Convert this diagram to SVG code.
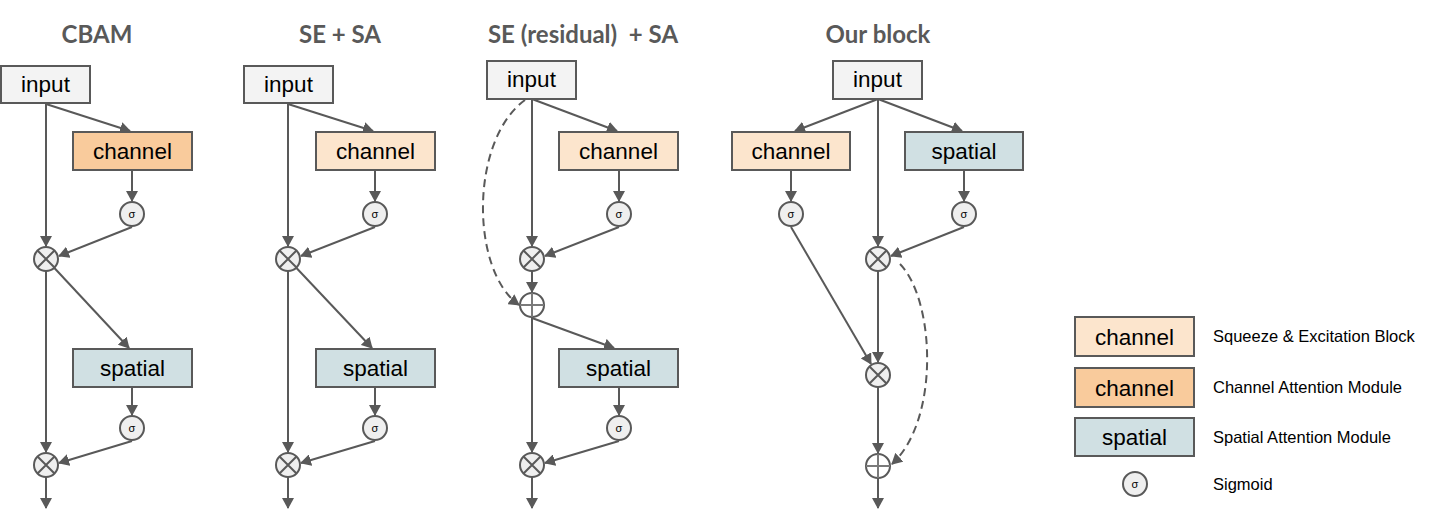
<svg xmlns="http://www.w3.org/2000/svg" width="1454" height="522" viewBox="0 0 1454 522">
<style>
.title{font-family:Lato,"Liberation Sans",sans-serif;font-weight:bold;font-size:24px;fill:#595959;text-anchor:middle;white-space:pre}
.box{stroke:#595959;stroke-width:2}
.inp{fill:#f3f3f3}
.cam{fill:#f9cb9c}
.se{fill:#fce5cd}
.sp{fill:#d0e0e3}
.lbl{font-family:"Liberation Sans",Arial,sans-serif;font-size:22.5px;fill:#000;text-anchor:middle}
.sig{fill:#efefef;stroke:#595959;stroke-width:2}
.sigt{font-family:"Liberation Sans",Arial,sans-serif;font-size:11px;fill:#000;text-anchor:middle}
.op{fill:#efefef;stroke:#595959;stroke-width:2}
.opl{stroke:#595959;stroke-width:2}
.add{fill:#ffffff;stroke:#595959;stroke-width:2}
.addl{stroke:#7a7a7a;stroke-width:2}
.con{fill:none;stroke:#595959;stroke-width:2;marker-end:url(#arr)}
.dash{stroke-dasharray:8,5}
.leg{font-family:"Liberation Sans",Arial,sans-serif;font-size:16.5px;fill:#000}
</style>
<defs>
<marker id="arr" viewBox="0 0 11 12" refX="10" refY="6" markerWidth="11" markerHeight="12" markerUnits="userSpaceOnUse" orient="auto">
<path d="M0,0 L11,6 L0,12 z" fill="#595959"/>
</marker>
</defs>
<rect width="1454" height="522" fill="#ffffff"/>

<g id="titles">
<text class="title" x="97" y="43">CBAM</text>
<text class="title" x="340" y="43">SE + SA</text>
<text class="title" x="583" y="43">SE (residual)  + SA</text>
<text class="title" x="878" y="43">Our block</text>
</g>

<g id="connectors">
<!-- CBAM -->
<path class="con" d="M46,104 L130,131"/>
<path class="con" d="M46,104 L46,246"/>
<path class="con" d="M132,170 L132,201"/>
<path class="con" d="M132,227 L59,256"/>
<path class="con" d="M46,259 L129,348"/>
<path class="con" d="M46,259 L46,452"/>
<path class="con" d="M132,387 L132,415"/>
<path class="con" d="M132,441 L59,463"/>
<path class="con" d="M46,465 L46,508"/>
<!-- SE + SA -->
<path class="con" d="M288,104 L373,131"/>
<path class="con" d="M288,104 L288,246"/>
<path class="con" d="M375,170 L375,201"/>
<path class="con" d="M375,227 L301,256"/>
<path class="con" d="M288,259 L372,348"/>
<path class="con" d="M288,259 L288,452"/>
<path class="con" d="M375,387 L375,415"/>
<path class="con" d="M375,441 L301,463"/>
<path class="con" d="M288,465 L288,508"/>
<!-- SE residual + SA -->
<path class="con" d="M532,99 L617,131"/>
<path class="con" d="M532,99 L532,246"/>
<path class="con" d="M619,170 L619,201"/>
<path class="con" d="M619,227 L545,256"/>
<path class="con" d="M532,259 L532,292"/>
<path class="con" d="M532,318 L614,348"/>
<path class="con" d="M532,305 L532,452"/>
<path class="con" d="M619,387 L619,415"/>
<path class="con" d="M619,441 L545,463"/>
<path class="con" d="M532,465 L532,508"/>
<path class="con dash" d="M525,100 C470,140 470,270 519,305"/>
<!-- Our block -->
<path class="con" d="M878,99 L795,131"/>
<path class="con" d="M878,99 L962,131"/>
<path class="con" d="M878,99 L878,246"/>
<path class="con" d="M791,170 L791,201"/>
<path class="con" d="M964,170 L964,201"/>
<path class="con" d="M964,227 L891,256"/>
<path class="con" d="M791,227 L871,364"/>
<path class="con" d="M878,259 L878,362"/>
<path class="con" d="M878,375 L878,453"/>
<path class="con" d="M878,466 L878,508"/>
<path class="con dash" d="M900,264 C935,300 940,420 892,464"/>
</g>

<!-- CBAM nodes -->
<g id="cbam-input"><rect class="box inp" x="1" y="66" width="89" height="37"/><text class="lbl" x="45.5" y="92">input</text></g>
<g id="cbam-channel"><rect class="box cam" x="73" y="132" width="119" height="38"/><text class="lbl" x="132.5" y="159">channel</text></g>
<g id="cbam-sigma1"><circle class="sig" cx="132" cy="214" r="12"/><text class="sigt" x="132" y="218">σ</text></g>
<g id="cbam-mul1"><circle class="op" cx="46" cy="259" r="12"/><path class="opl" d="M37.5,250.5 L54.5,267.5 M54.5,250.5 L37.5,267.5"/></g>
<g id="cbam-spatial"><rect class="box sp" x="73" y="349" width="119" height="38"/><text class="lbl" x="132.5" y="376">spatial</text></g>
<g id="cbam-sigma2"><circle class="sig" cx="132" cy="428" r="12"/><text class="sigt" x="132" y="432">σ</text></g>
<g id="cbam-mul2"><circle class="op" cx="46" cy="465" r="12"/><path class="opl" d="M37.5,456.5 L54.5,473.5 M54.5,456.5 L37.5,473.5"/></g>

<!-- SE + SA nodes -->
<g id="sesa-input"><rect class="box inp" x="244" y="66" width="89" height="37"/><text class="lbl" x="288.5" y="92">input</text></g>
<g id="sesa-channel"><rect class="box se" x="316" y="132" width="119" height="38"/><text class="lbl" x="375.5" y="159">channel</text></g>
<g id="sesa-sigma1"><circle class="sig" cx="375" cy="214" r="12"/><text class="sigt" x="375" y="218">σ</text></g>
<g id="sesa-mul1"><circle class="op" cx="288" cy="259" r="12"/><path class="opl" d="M279.5,250.5 L296.5,267.5 M296.5,250.5 L279.5,267.5"/></g>
<g id="sesa-spatial"><rect class="box sp" x="316" y="349" width="119" height="38"/><text class="lbl" x="375.5" y="376">spatial</text></g>
<g id="sesa-sigma2"><circle class="sig" cx="375" cy="428" r="12"/><text class="sigt" x="375" y="432">σ</text></g>
<g id="sesa-mul2"><circle class="op" cx="288" cy="465" r="12"/><path class="opl" d="M279.5,456.5 L296.5,473.5 M296.5,456.5 L279.5,473.5"/></g>

<!-- SE residual + SA nodes -->
<g id="ser-input"><rect class="box inp" x="487" y="61" width="89" height="38"/><text class="lbl" x="531.5" y="87">input</text></g>
<g id="ser-channel"><rect class="box se" x="559" y="132" width="119" height="38"/><text class="lbl" x="618.5" y="159">channel</text></g>
<g id="ser-sigma1"><circle class="sig" cx="619" cy="214" r="12"/><text class="sigt" x="619" y="218">σ</text></g>
<g id="ser-mul1"><circle class="op" cx="532" cy="259" r="12"/><path class="opl" d="M523.5,250.5 L540.5,267.5 M540.5,250.5 L523.5,267.5"/></g>
<g id="ser-add"><circle class="add" cx="532" cy="305" r="12"/><path class="addl" d="M520,305 L544,305 M532,293 L532,317"/></g>
<g id="ser-spatial"><rect class="box sp" x="559" y="349" width="119" height="38"/><text class="lbl" x="618.5" y="376">spatial</text></g>
<g id="ser-sigma2"><circle class="sig" cx="619" cy="428" r="12"/><text class="sigt" x="619" y="432">σ</text></g>
<g id="ser-mul2"><circle class="op" cx="532" cy="465" r="12"/><path class="opl" d="M523.5,456.5 L540.5,473.5 M540.5,456.5 L523.5,473.5"/></g>

<!-- Our block nodes -->
<g id="our-input"><rect class="box inp" x="833" y="61" width="89" height="38"/><text class="lbl" x="877.5" y="87">input</text></g>
<g id="our-channel"><rect class="box se" x="732" y="132" width="118" height="38"/><text class="lbl" x="791" y="159">channel</text></g>
<g id="our-spatial"><rect class="box sp" x="905" y="132" width="118" height="38"/><text class="lbl" x="964" y="159">spatial</text></g>
<g id="our-sigma-c"><circle class="sig" cx="791" cy="214" r="12"/><text class="sigt" x="791" y="218">σ</text></g>
<g id="our-sigma-s"><circle class="sig" cx="964" cy="214" r="12"/><text class="sigt" x="964" y="218">σ</text></g>
<g id="our-mul1"><circle class="op" cx="878" cy="259" r="12"/><path class="opl" d="M869.5,250.5 L886.5,267.5 M886.5,250.5 L869.5,267.5"/></g>
<g id="our-mul2"><circle class="op" cx="878" cy="375" r="12"/><path class="opl" d="M869.5,366.5 L886.5,383.5 M886.5,366.5 L869.5,383.5"/></g>
<g id="our-add"><circle class="add" cx="878" cy="466" r="12"/><path class="addl" d="M866,466 L890,466 M878,454 L878,478"/></g>

<!-- Legend -->
<g id="legend-se"><rect class="box se" x="1075" y="317" width="119" height="39"/><text class="lbl" x="1134.5" y="345">channel</text><text class="leg" x="1213" y="342">Squeeze &amp; Excitation Block</text></g>
<g id="legend-cam"><rect class="box cam" x="1075" y="368" width="119" height="39"/><text class="lbl" x="1134.5" y="396">channel</text><text class="leg" x="1213" y="393">Channel Attention Module</text></g>
<g id="legend-sam"><rect class="box sp" x="1075" y="418" width="119" height="38"/><text class="lbl" x="1134.5" y="445">spatial</text><text class="leg" x="1213" y="443">Spatial Attention Module</text></g>
<g id="legend-sigmoid"><circle class="sig" cx="1135" cy="484" r="12"/><text class="sigt" x="1135" y="488">σ</text><text class="leg" x="1213" y="490">Sigmoid</text></g>
</svg>
